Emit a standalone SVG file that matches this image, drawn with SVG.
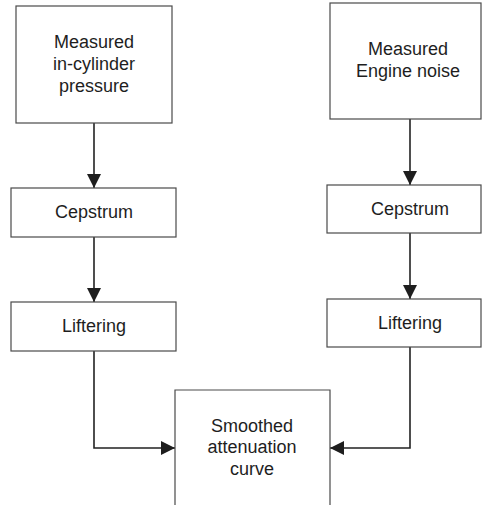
<svg xmlns="http://www.w3.org/2000/svg" width="482" height="505" viewBox="0 0 482 505">
  <style>
    .box { fill: #ffffff; stroke: #4a4a4a; stroke-width: 1.2; }
    .lbl { font-family: "Liberation Sans", Arial, sans-serif; font-size: 18px; fill: #1e1e1e; text-anchor: middle; }
    .wire { fill: none; stroke: #222222; stroke-width: 1.6; }
  </style>
  <defs>
    <marker id="tri" markerWidth="14" markerHeight="14" refX="14" refY="7" orient="auto" markerUnits="userSpaceOnUse">
      <path d="M0,0 L14,7 L0,14 Z" fill="#1e1e1e"/>
    </marker>
  </defs>
  <rect width="482" height="505" fill="#ffffff"/>

  <g id="connectors">
    <path class="wire" d="M94,123 V188" marker-end="url(#tri)"/>
    <path class="wire" d="M94,237 V302" marker-end="url(#tri)"/>
    <path class="wire" d="M94,351 V448 H175" marker-end="url(#tri)"/>
    <path class="wire" d="M410,119 V185" marker-end="url(#tri)"/>
    <path class="wire" d="M410,233 V299" marker-end="url(#tri)"/>
    <path class="wire" d="M410,347 V448 H330" marker-end="url(#tri)"/>
  </g>

  <g id="pressure">
    <rect class="box" x="16" y="6" width="156" height="117"/>
    <text class="lbl" x="94" y="48">Measured</text>
    <text class="lbl" x="94" y="70">in-cylinder</text>
    <text class="lbl" x="94" y="92">pressure</text>
  </g>
  <g id="cepstrum-left">
    <rect class="box" x="11" y="188" width="165" height="49"/>
    <text class="lbl" x="94" y="218">Cepstrum</text>
  </g>
  <g id="liftering-left">
    <rect class="box" x="11" y="302" width="165" height="49"/>
    <text class="lbl" x="94" y="332">Liftering</text>
  </g>

  <g id="noise">
    <rect class="box" x="330" y="3" width="151" height="116"/>
    <text class="lbl" x="408" y="55">Measured</text>
    <text class="lbl" x="408" y="77">Engine noise</text>
  </g>
  <g id="cepstrum-right">
    <rect class="box" x="327" y="185" width="154" height="48"/>
    <text class="lbl" x="410" y="215">Cepstrum</text>
  </g>
  <g id="liftering-right">
    <rect class="box" x="327" y="299" width="154" height="48"/>
    <text class="lbl" x="410" y="329">Liftering</text>
  </g>

  <g id="smoothed">
    <path class="box" d="M175,506 V390 H330 V506"/>
    <text class="lbl" x="252" y="432">Smoothed</text>
    <text class="lbl" x="252" y="453">attenuation</text>
    <text class="lbl" x="252" y="475">curve</text>
  </g>
</svg>
